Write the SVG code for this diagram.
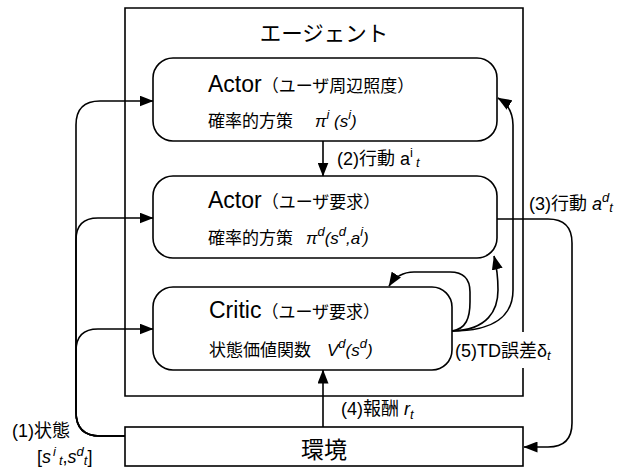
<svg xmlns="http://www.w3.org/2000/svg" width="618" height="468" viewBox="0 0 618 468">
<defs>
<marker id="ah" viewBox="0 0 14 11" refX="13.5" refY="5.5" markerWidth="14" markerHeight="11" markerUnits="userSpaceOnUse" orient="auto">
<path d="M0,0 L14,5.5 L0,11 Z" fill="#000"/>
</marker>
<style>
.box{fill:#fff;stroke:#000;stroke-width:1.6}
.ln{fill:none;stroke:#000;stroke-width:1.6}
.arr{fill:none;stroke:#000;stroke-width:1.6;marker-end:url(#ah)}
text{font-family:"Liberation Sans","Noto Sans CJK JP",sans-serif;fill:#000}
.big{font-size:23px}
.sm{font-size:17px}
.lb{font-size:18px}
.it{font-style:italic}
.sup{font-size:13px;font-style:italic}
</style>
</defs>
<g id="agent">
<path class="ln" d="M523,332 V8 H125 V396 H523 V368"/>
<text x="324" y="41" text-anchor="middle" style="font-size:21.5px">エージェント</text>
</g>
<g id="actor1">
<rect class="box" x="153" y="58" width="344" height="83" rx="20"/>
<text x="208" y="92"><tspan class="big">Actor</tspan><tspan class="sm">（ユーザ周辺照度）</tspan></text>
<text x="208" y="127" class="sm">確率的方策<tspan class="it" dx="22">π</tspan><tspan class="sup" dy="-8">i</tspan><tspan class="it" dy="8"> (s</tspan><tspan class="sup" dy="-8">i</tspan><tspan class="it" dy="8">)</tspan></text>
</g>
<g id="actor2">
<rect class="box" x="153" y="176" width="344" height="82" rx="20"/>
<text x="208" y="208"><tspan class="big">Actor</tspan><tspan class="sm">（ユーザ要求）</tspan></text>
<text x="208" y="244" class="sm">確率的方策<tspan class="it" dx="13">π</tspan><tspan class="sup" dy="-8">d</tspan><tspan class="it" dy="8">(s</tspan><tspan class="sup" dy="-8">d</tspan><tspan class="it" dy="8">,a</tspan><tspan class="sup" dy="-8">i</tspan><tspan class="it" dy="8">)</tspan></text>
</g>
<g id="critic">
<rect class="box" x="153" y="287" width="299" height="83" rx="20"/>
<text x="209" y="318"><tspan class="big">Critic</tspan><tspan class="sm">（ユーザ要求）</tspan></text>
<text x="209" y="356" class="sm">状態価値関数<tspan class="it" dx="16">V</tspan><tspan class="sup" dy="-8">d</tspan><tspan class="it" dy="8">(s</tspan><tspan class="sup" dy="-8">d</tspan><tspan class="it" dy="8">)</tspan></text>
</g>
<g id="env">
<rect class="box" x="125" y="427" width="398" height="39"/>
<text x="324" y="458" text-anchor="middle" style="font-size:23px">環境</text>
</g>
<g id="connectors">
<path class="arr" d="M125,436 H100 Q76,436 76,412 V125 Q76,101 100,101 H153"/>
<path class="arr" d="M125,436 H100 Q76,436 76,412 V240 Q76,218 98,218 H153"/>
<path class="arr" d="M125,436 H100 Q76,436 76,412 V351 Q76,329 98,329 H153"/>
<path class="arr" d="M323,141 V176"/>
<path class="arr" d="M497,219 H548 Q572,219 572,243 V423 Q572,447 548,447 H524"/>
<path class="arr" d="M323,427 V370"/>
<path class="arr" d="M452,331 C466,329 470,318 470,302 L470,292 Q470,272 450,272 L414,272 Q398,272 389,286"/>
<path class="arr" d="M452,331 C488,330 498,310 498,290 C498,280 497,268 494,256"/>
<path class="arr" d="M452,331 C495,331 513,315 513,290 V125 C513,112 508,104 498,98"/>
</g>
<g id="labels">
<text x="337" y="165" class="lb">(2)行動 a<tspan font-size="13" dy="-8">i</tspan><tspan class="sup" dy="10" dx="3">t</tspan></text>
<text x="529" y="210" class="lb">(3)行動 <tspan class="it">a</tspan><tspan class="sup" dy="-8">d</tspan><tspan class="sup" dy="10">t</tspan></text>
<text x="341" y="415" class="lb">(4)報酬 <tspan class="it">r</tspan><tspan class="sup" dy="4">t</tspan></text>
<text x="455" y="357" class="lb">(5)TD誤差δ<tspan class="sup" dy="3">t</tspan></text>
<text x="12" y="437" class="lb">(1)状態</text>
<text x="37" y="463" class="lb">[<tspan class="it">s</tspan><tspan class="sup" dy="-7" dx="2">i</tspan><tspan class="sup" dy="9" dx="3">t</tspan><tspan dy="-2">,</tspan><tspan class="it">s</tspan><tspan class="sup" dy="-7">d</tspan><tspan class="sup" dy="9">t</tspan><tspan dy="-2">]</tspan></text>
</g>
</svg>
